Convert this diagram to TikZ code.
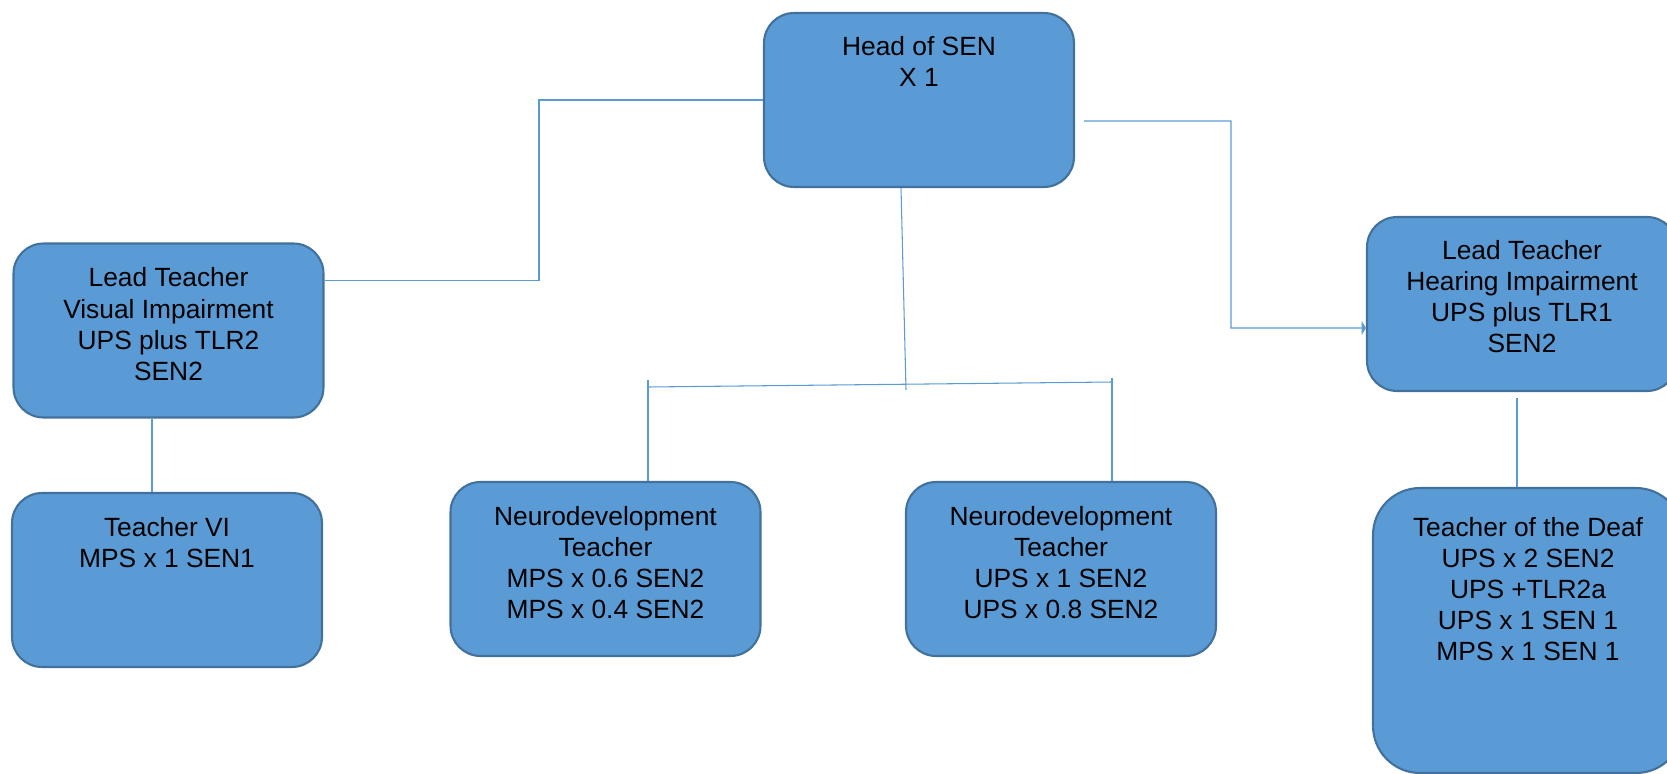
\documentclass[tikz,border=0pt]{standalone}
\usepackage{fontspec}
\setmainfont{Liberation Sans}
\usetikzlibrary{positioning,arrows.meta}
\definecolor{boxfill}{HTML}{5B9BD5}
\definecolor{boxline}{HTML}{41719C}

\begin{document}
\begin{tikzpicture}[x=0.02cm, y=-0.02cm, main/.style = {draw=boxline, line width=1.2pt, fill=boxfill, rounded corners=0.6cm, minimum width=6.2cm, minimum height=3.48cm, inner sep=0pt}, txt/.style = {inner sep=0pt, align=center, font=\fontsize{15}{17.7}\selectfont}, link/.style = {draw=boxfill, line width=0.6pt}]
	\clip (0,0) rectangle (1667,774);

	\node[main] (head) at (919,100) {};
	\node[main] (vilead) at (168.5,330.5) {};
	\node[main] (vi) at (167,580) {};
	\node[main] (ndA) at (605.5,569) {};
	\node[main] (ndB) at (1061,569) {};
	\node[main] (hilead) at (1522,304) {};
	\node[main, minimum height=5.7cm, rounded corners=0.94cm] (deaf) at (1528,630.5) {};

	\node[txt, below=0.48cm of head.north] (headT) {Head of SEN\\X 1};
	\node[txt, below=0.5cm of vilead.north] (vileadT) {Lead Teacher\\Visual Impairment\\UPS plus TLR2\\SEN2};
	\node[txt, below=0.5cm of vi.north] (viT) {Teacher VI\\MPS x 1 SEN1};
	\node[txt, below=0.5cm of ndA.north] (ndAT) {Neurodevelopment\\Teacher\\MPS x 0.6 SEN2\\MPS x 0.4 SEN2};
	\node[txt, below=0.5cm of ndB.north] (ndBT) {Neurodevelopment\\Teacher\\UPS x 1 SEN2\\UPS x 0.8 SEN2};
	\node[txt, below=0.48cm of hilead.north] (hileadT) {Lead Teacher\\Hearing Impairment\\UPS plus TLR1\\SEN2};
	\node[txt, below=0.6cm of deaf.north] (deafT) {Teacher of the Deaf\\UPS x 2 SEN2\\UPS +TLR2a\\UPS x 1 SEN 1\\MPS x 1 SEN 1};

	\coordinate (bendL) at (539,100);
	\coordinate (bendR) at (1231,121);
	\coordinate (hub) at (906,390);
	\coordinate (busL) at (648,387);
	\coordinate (busR) at (1112,382);

	\draw[link] (vilead.east) ++(0,-50) -| (bendL) -- (head.west);
	\draw[link, -{Triangle[length=2.5pt, width=8pt]}] ([xshift=0.18cm, yshift=-0.42cm]head.east) -- (bendR) |- ([yshift=-0.48cm]hilead.west);
	\draw[link] ([xshift=-0.36cm]head.south) -- (hub);
	\draw[link] (busL) -- (busR);
	\draw[link] ([yshift=0.14cm]busL) -- (busL |- ndA.north);
	\draw[link] ([yshift=0.08cm]busR) -- (busR |- ndB.north);
	\draw[link] ([xshift=-0.33cm]vilead.south) coordinate (viDrop) -- (viDrop |- vi.north);
	\draw[link] ([xshift=-0.1cm, yshift=-0.12cm]hilead.south) coordinate (hiDrop) -- (hiDrop |- deaf.north);

\end{tikzpicture}
\end{document}
